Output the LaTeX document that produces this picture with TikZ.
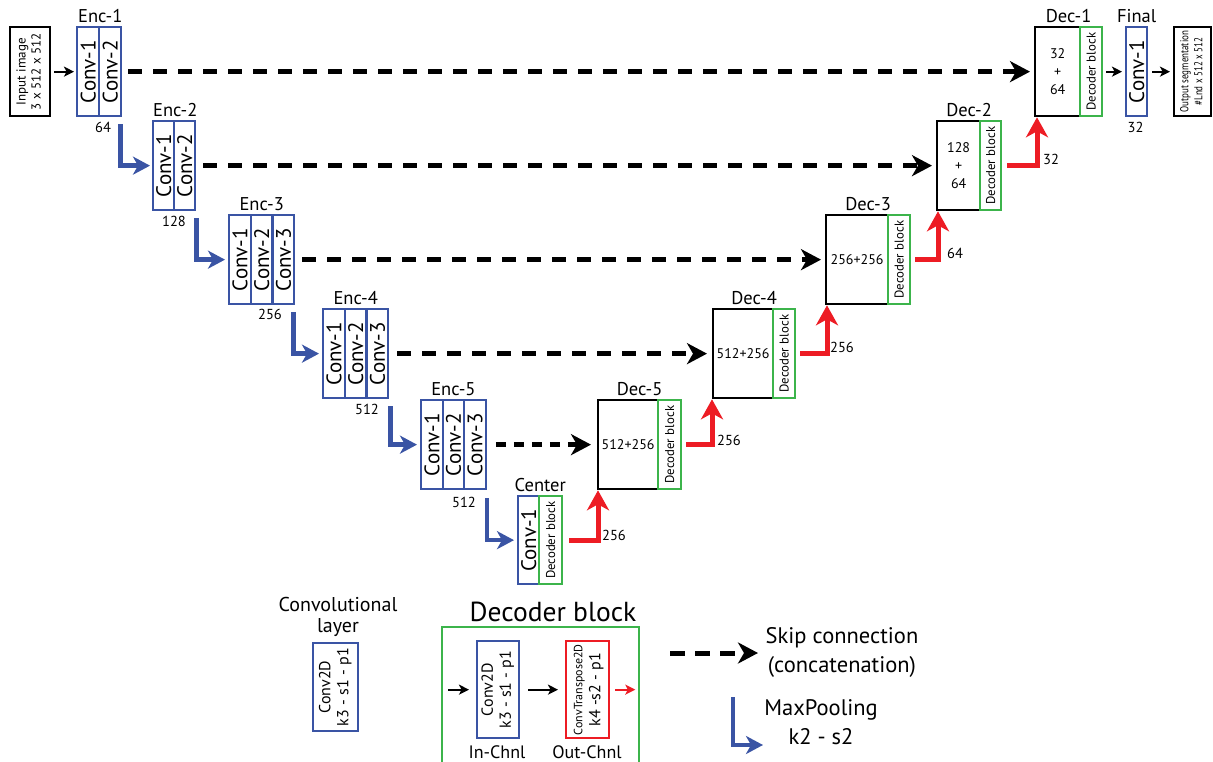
\documentclass[tikz,border=0pt]{standalone}
\usepackage{fontspec}
\setmainfont{PT Sans}
\usetikzlibrary{arrows.meta,calc}
\definecolor{ublue}{RGB}{58,84,164}
\definecolor{ugreen}{RGB}{60,180,75}
\definecolor{ured}{RGB}{237,28,36}
\newcommand{\vt}[1]{\rotatebox{90}{\begin{tabular}{@{}c@{}}#1\end{tabular}}}
\tikzset{
  box/.style={draw, line width=2.3pt, inner sep=0pt, anchor=north west, align=center},
  bb/.style={box, draw=ublue},
  gb/.style={box, draw=ugreen},
  kb/.style={box, draw=black},
  conv/.style={bb, minimum height=89pt, font=\fontsize{21}{22}\selectfont},
  decg/.style={gb, minimum height=89pt, font=\fontsize{12.8}{13}\selectfont},
  deck/.style={kb, minimum height=89pt, font=\fontsize{14}{18}\selectfont},
  lab/.style={anchor=south, inner sep=3pt, font=\fontsize{18.5}{20}\selectfont},
  num/.style={inner sep=0pt, font=\fontsize{14.5}{16}\selectfont},
  skip/.style={line width=5pt, dash pattern=on 14pt off 11pt, -{Stealth[length=20pt,width=21pt,inset=6pt]}},
  uparr/.style={line width=5pt, color=ured, line join=miter, -{Stealth[length=20pt,width=22pt,inset=6pt]}},
  pool/.style={line width=4.5pt, color=ublue, line join=miter, -{Stealth[length=17pt,width=18pt,inset=5pt]}},
  tarr/.style={line width=1.8pt, -{Stealth[length=10pt,width=10pt,inset=2.5pt]}}
}
\begin{document}
\begin{tikzpicture}[x=1pt,y=-1pt]
\useasboundingbox (0,0) rectangle (1213,762);

% input
\node[kb, minimum width=40pt, minimum height=89pt, font=\fontsize{13}{15}\selectfont] (in) at (9,26) {\vt{Input image\\3 x 512 x 512}};

% Enc-1
\node[conv, minimum width=22pt] (e1a) at (76,26) {\rotatebox{90}{Conv-1}};
\node[conv, minimum width=22pt] (e1b) at (98,26) {\rotatebox{90}{Conv-2}};
\node[lab] (t1) at (e1a.north east) {Enc-1};
\node[num] (n1) at (103,127) {64};
% Enc-2
\node[conv, minimum width=21pt] (e2a) at (152,120) {\rotatebox{90}{Conv-1}};
\node[conv, minimum width=21pt] (e2b) at (173,120) {\rotatebox{90}{Conv-2}};
\node[lab] (t2) at (e2a.north east) {Enc-2};
\node[num] (n2) at (174,221) {128};
% Enc-3
\node[conv, minimum width=21.7pt] (e3a) at (228,214) {\rotatebox{90}{Conv-1}};
\node[conv, minimum width=21.7pt] (e3b) at (249.7,214) {\rotatebox{90}{Conv-2}};
\node[conv, minimum width=21.7pt] (e3c) at (271.4,214) {\rotatebox{90}{Conv-3}};
\node[lab] (t3) at (e3b.north) {Enc-3};
\node[num] (n3) at (270,314) {256};
% Enc-4
\node[conv, minimum width=21.7pt] (e4a) at (322,308) {\rotatebox{90}{Conv-1}};
\node[conv, minimum width=21.7pt] (e4b) at (343.7,308) {\rotatebox{90}{Conv-2}};
\node[conv, minimum width=21.7pt] (e4c) at (365.4,308) {\rotatebox{90}{Conv-3}};
\node[lab] (t4) at (e4b.north) {Enc-4};
\node[num] (n4) at (367,409) {512};
% Enc-5
\node[conv, minimum width=21.5pt] (e5a) at (420,399) {\rotatebox{90}{Conv-1}};
\node[conv, minimum width=21.5pt] (e5b) at (441.5,399) {\rotatebox{90}{Conv-2}};
\node[conv, minimum width=21.5pt] (e5c) at (463,399) {\rotatebox{90}{Conv-3}};
\node[lab] (t5) at (e5b.north) {Enc-5};
\node[num] (n5) at (464,502) {512};
% Center
\node[conv, minimum width=21pt, minimum height=88pt] (c1) at (517,495) {\rotatebox{90}{Conv-1}};
\node[decg, minimum width=23pt, minimum height=88pt] (cg) at (538,495) {\rotatebox{90}{Decoder block}};
\node[lab] (tc) at (c1.north east) {Center};
% Dec-5
\node[deck, minimum width=60pt] (d5) at (597,399) {512+256};
\node[decg, minimum width=23pt] (g5) at (657,399) {\rotatebox{90}{Decoder block}};
\node[lab] (td5) at ($(d5.north west)!0.5!(g5.north east)$) {Dec-5};
% Dec-4
\node[deck, minimum width=60pt] (d4) at (712,308) {512+256};
\node[decg, minimum width=22pt] (g4) at (772,308) {\rotatebox{90}{Decoder block}};
\node[lab] (td4) at ($(d4.north west)!0.5!(g4.north east)$) {Dec-4};
% Dec-3
\node[deck, minimum width=62pt] (d3) at (825,214) {256+256};
\node[decg, minimum width=22pt] (g3) at (887,214) {\rotatebox{90}{Decoder block}};
\node[lab] (td3) at ($(d3.north west)!0.5!(g3.north east)$) {Dec-3};
% Dec-2
\node[deck, minimum width=43pt] (d2) at (936,120) {128\\+\\64};
\node[decg, minimum width=21pt] (g2) at (979,120) {\rotatebox{90}{Decoder block}};
\node[lab] (td2) at ($(d2.north west)!0.5!(g2.north east)$) {Dec-2};
% Dec-1
\node[deck, minimum width=45pt] (d1) at (1034,26) {32\\+\\64};
\node[decg, minimum width=22pt] (g1) at (1079,26) {\rotatebox{90}{Decoder block}};
\node[lab] (td1) at ($(d1.north west)!0.5!(g1.north east)$) {Dec-1};
% Final
\node[conv, minimum width=21pt] (fin) at (1125,26) {\rotatebox{90}{Conv-1}};
\node[lab] (tf) at (fin.north) {Final};
\node[num] (nf) at (1135.5,127) {32};
% Output
\node[kb, minimum width=37pt, minimum height=89pt, font=\fontsize{11.5}{14}\selectfont] (out) at (1173,26) {\rotatebox{90}{\scalebox{0.78}[1]{\begin{tabular}{@{}c@{}}Output segmentation\\\#Lnd x 512 x 512\end{tabular}}}};

% thin arrows
\draw[tarr] ([xshift=3pt]in.east) -- ([xshift=-2pt]e1a.west);
\draw[tarr] ([xshift=3pt]g1.east) -- ([xshift=-3pt]fin.west);
\draw[tarr] ([xshift=4pt]fin.east) -- ([xshift=-3pt]out.west);

% skip connections
\draw[skip] ([xshift=6pt]e1b.east) -- ([xshift=-4pt]d1.west);
\draw[skip] ([xshift=7pt]e2b.east) -- ([xshift=-4pt]d2.west);
\draw[skip] ([xshift=7pt]e3c.east) -- ([xshift=-4pt]d3.west);
\draw[skip] ([xshift=8pt]e4c.east) -- ([xshift=-5pt]d4.west);
\draw[skip, dash pattern=on 10pt off 8pt] ([xshift=9pt]e5c.east) -- ([xshift=-6pt]d5.west);

% max pooling
\draw[pool] ([xshift=-2pt,yshift=-7pt]e1b.south east) |- ([xshift=-2pt]e2a.west);
\draw[pool] ([xshift=0pt,yshift=-7pt]e2b.south east) |- ([xshift=-3pt]e3a.west);
\draw[pool] ([xshift=-2pt,yshift=-7pt]e3c.south east) |- ([xshift=-3pt]e4a.west);
\draw[pool] ([xshift=1pt,yshift=-7pt]e4c.south east) |- ([xshift=-3pt]e5a.west);
\draw[pool] ([xshift=0pt,yshift=-8pt]e5c.south east) |- ([xshift=-3pt]c1.west);

% up-sampling
\draw[uparr] ([xshift=6pt]cg.east) -| ([xshift=1pt]d5.south west);
\draw[uparr] ([xshift=4pt]g5.east) -| ([xshift=0pt]d4.south west);
\draw[uparr] ([xshift=4pt]g4.east) -| ([xshift=2pt]d3.south west);
\draw[uparr] ([xshift=4pt]g3.east) -| ([xshift=2pt]d2.south west);
\draw[uparr] ([xshift=5pt]g2.east) -| ([xshift=3pt]d1.south west);
\node[num] (r5) at (614,535) {256};
\node[num] (r4) at (729,440) {256};
\node[num] (r3) at (842,347) {256};
\node[num] (r2) at (955,253) {64};
\node[num] (r1) at (1051,159) {32};

% legend: convolutional layer
\node[align=center, inner sep=0pt, font=\fontsize{20}{21}\selectfont] (lct) at (338,617) {Convolutional\\layer};
\node[bb, minimum width=45pt, minimum height=88pt, font=\fontsize{16}{18}\selectfont] (lconv) at (312,642) {\vt{Conv2D\\k3 - s1 - p1}};

% legend: decoder block
\node[inner sep=0pt, font=\fontsize{27.5}{28}\selectfont] (dbt) at (553,612) {Decoder block};
\node[gb, minimum width=197pt, minimum height=160pt] (dbox) at (441,626) {};
\node[bb, minimum width=42pt, minimum height=97pt, font=\fontsize{16}{18}\selectfont] (dconv) at (476,640) {\vt{Conv2D\\k3 - s1 - p1}};
\node[box, draw=ured, minimum width=43pt, minimum height=97pt, font=\fontsize{16}{18}\selectfont] (dtr) at (565,640) {\vt{{\fontsize{12}{14}\selectfont ConvTranspose2D}\\k4 -s2 - p1}};
\draw[tarr] ([xshift=-28pt]dconv.west) -- ([xshift=-7pt]dconv.west);
\draw[tarr] ([xshift=8pt]dconv.east) -- ([xshift=-7pt]dtr.west);
\draw[tarr, color=ured] ([xshift=5pt]dtr.east) -- ([xshift=25pt]dtr.east);
\node[inner sep=0pt, font=\fontsize{18}{20}\selectfont] (lin) at (497,752) {In-Chnl};
\node[inner sep=0pt, font=\fontsize{18}{20}\selectfont] (lout) at (587,752) {Out-Chnl};

% legend: skip connection
\coordinate (sk0) at (670,653);
\coordinate (sk1) at (758,653);
\draw[skip, dash pattern=on 15pt off 10pt] (sk0) -- (sk1);
\node[align=center, inner sep=0pt, font=\fontsize{22.5}{29}\selectfont] (skt) at (842,652) {Skip connection\\(concatenation)};

% legend: max pooling
\coordinate (mp0) at (733,697);
\coordinate (mp1) at (763,745);
\draw[pool] (mp0) |- (mp1);
\node[align=center, inner sep=0pt, font=\fontsize{22.5}{29}\selectfont] (mpt) at (821,722) {MaxPooling\\k2 - s2};
\end{tikzpicture}
\end{document}
